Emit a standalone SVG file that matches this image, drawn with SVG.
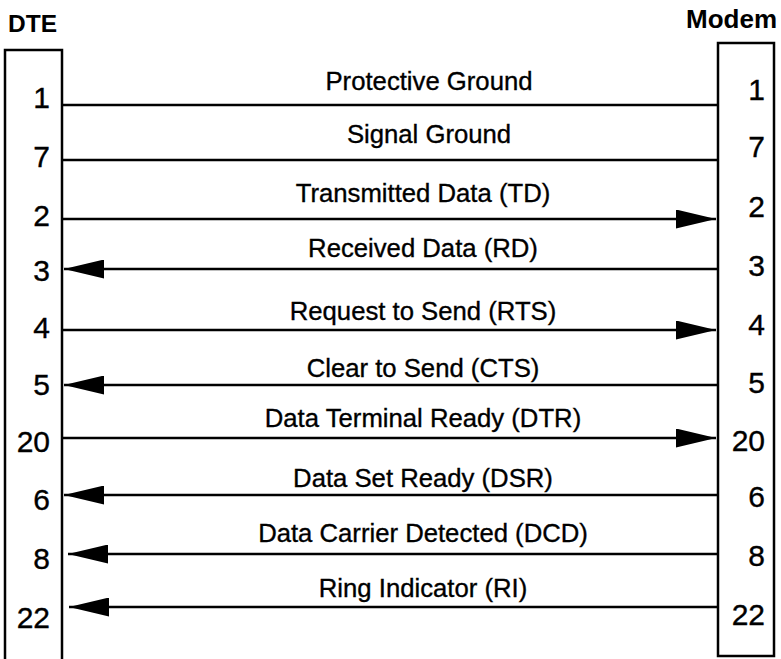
<svg xmlns="http://www.w3.org/2000/svg" width="781" height="659" viewBox="0 0 781 659">
<defs>
<style>
.box{fill:none;stroke:#000;stroke-width:2.5}
.wire{stroke:#000;stroke-width:2.3;fill:none}
.arr{marker-end:url(#ah)}
.lbl{font-family:"Liberation Sans",Arial,sans-serif;font-size:25.7px;fill:#000;stroke:#000;stroke-width:0.35;text-anchor:middle}
.pin{font-family:"Liberation Sans",Arial,sans-serif;font-size:30px;fill:#000;stroke:#000;stroke-width:0.35;text-anchor:end}
.hdr{font-family:"Liberation Sans",Arial,sans-serif;font-weight:bold;fill:#000}
</style>
<marker id="ah" markerUnits="userSpaceOnUse" markerWidth="40" markerHeight="19" viewBox="0 0 40 19" refX="40" refY="9.5" orient="auto">
<path d="M0,0 L40,9.5 L0,19 Z" fill="#000"/>
</marker>
</defs>
<rect width="781" height="659" fill="#fff"/>
<g id="dte">
<text class="hdr" x="8" y="32" font-size="24.5">DTE</text>
<path class="box" d="M5,659 V50 H62 V659"/>
<text class="pin" x="50" y="108">1</text>
<text class="pin" x="50" y="167">7</text>
<text class="pin" x="50" y="226">2</text>
<text class="pin" x="50" y="281">3</text>
<text class="pin" x="50" y="338">4</text>
<text class="pin" x="50" y="395">5</text>
<text class="pin" x="50" y="452">20</text>
<text class="pin" x="50" y="510">6</text>
<text class="pin" x="50" y="569">8</text>
<text class="pin" x="50" y="628">22</text>
</g>
<g id="modem">
<text class="hdr" x="777" y="28" font-size="26" text-anchor="end">Modem</text>
<rect class="box" x="718" y="43" width="56" height="613"/>
<text class="pin" x="765" y="100">1</text>
<text class="pin" x="765" y="157">7</text>
<text class="pin" x="765" y="217">2</text>
<text class="pin" x="765" y="276">3</text>
<text class="pin" x="765" y="335">4</text>
<text class="pin" x="765" y="393">5</text>
<text class="pin" x="765" y="451">20</text>
<text class="pin" x="765" y="507">6</text>
<text class="pin" x="765" y="566">8</text>
<text class="pin" x="765" y="625">22</text>
</g>
<g id="connectors">
<line class="wire" x1="63" y1="105" x2="717" y2="105"/>
<line class="wire" x1="63" y1="160" x2="717" y2="160"/>
<line class="wire arr" x1="63" y1="219" x2="716" y2="219"/>
<line class="wire arr" x1="717" y1="269" x2="64" y2="269"/>
<line class="wire arr" x1="63" y1="330" x2="716" y2="330"/>
<line class="wire arr" x1="717" y1="385" x2="64" y2="385"/>
<line class="wire arr" x1="63" y1="438" x2="716" y2="438"/>
<line class="wire arr" x1="717" y1="495" x2="64" y2="495"/>
<line class="wire arr" x1="717" y1="554" x2="68" y2="554"/>
<line class="wire arr" x1="717" y1="607" x2="69" y2="607"/>
</g>
<g id="labels">
<text class="lbl" x="429" y="90">Protective Ground</text>
<text class="lbl" x="429" y="143">Signal Ground</text>
<text class="lbl" x="423" y="202">Transmitted Data (TD)</text>
<text class="lbl" x="423" y="257">Received Data (RD)</text>
<text class="lbl" x="423" y="320">Request to Send (RTS)</text>
<text class="lbl" x="423" y="377">Clear to Send (CTS)</text>
<text class="lbl" x="423" y="427">Data Terminal Ready (DTR)</text>
<text class="lbl" x="423" y="487">Data Set Ready (DSR)</text>
<text class="lbl" x="423" y="542">Data Carrier Detected (DCD)</text>
<text class="lbl" x="423" y="597">Ring Indicator (RI)</text>
</g>
</svg>
